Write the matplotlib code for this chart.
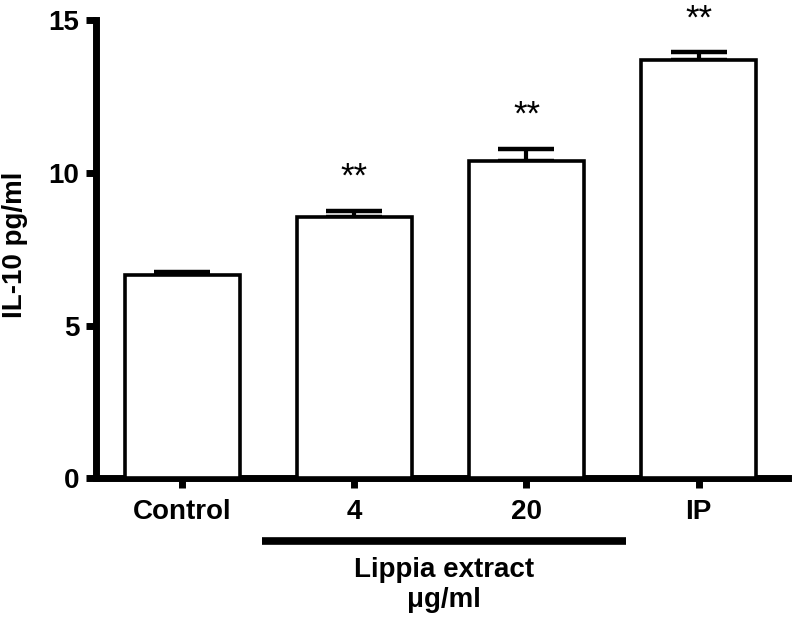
import numpy as np
import matplotlib
matplotlib.use("Agg")
import matplotlib.pyplot as plt

#  DATA
groups = ["Control", "4", "20", "IP"]
il10_mean = [6.64, 8.55, 10.37, 13.70]
il10_sem = [0.11, 0.21, 0.42, 0.25]
stars = ["", "**", "**", "**"]
y_ticks = [0, 5, 10, 15]

plt.rcParams["font.family"] = ["Liberation Sans", "DejaVu Sans"]

fig = plt.figure(figsize=(7.92, 6.21), dpi=100)
ax = fig.add_axes([0.1212, 0.2298, 0.874, 0.738])

x = np.arange(len(groups))
ax.bar(x, il10_mean, width=0.667, color="white", edgecolor="black",
       linewidth=2.6, zorder=3,
       yerr=[np.zeros(len(groups)), il10_sem],
       error_kw=dict(ecolor="black", elinewidth=3, capsize=20, capthick=3.2, zorder=2))

# significance stars
for i, s in enumerate(stars):
    if s:
        ax.annotate(s, (x[i], il10_mean[i] + il10_sem[i]), xytext=(0, 12),
                    textcoords="offset points", ha="center", va="bottom",
                    fontsize=25, annotation_clip=False)

ax.set_xlim(-0.5, 3.52)
ax.set_ylim(0, 15)
ax.set_yticks(y_ticks)
ax.set_xticks(x)
ax.set_xticklabels(groups)

for side in ["top", "right"]:
    ax.spines[side].set_visible(False)
for side in ["left", "bottom"]:
    ax.spines[side].set_linewidth(5)
ax.tick_params(axis="both", width=5, length=7, labelsize=20)
ax.tick_params(axis="x", pad=8)
ax.tick_params(axis="y", pad=5)
for lab in ax.get_xticklabels() + ax.get_yticklabels():
    lab.set_fontweight("bold")

ax.set_ylabel("IL-10 pg/ml", fontsize=20, fontweight="bold")
ax.yaxis.set_label_coords(-0.098, 0.51)

# group bar under the extract doses
trans = ax.get_xaxis_transform()
ax.plot([0.4625, 2.577], [-0.137, -0.137], color="black", linewidth=5.5,
        solid_capstyle="butt", transform=trans, clip_on=False)
ax.text(1.52, -0.20, "Lippia extract", transform=trans, ha="center", va="center",
        fontsize=20, fontweight="bold")
ax.text(1.52, -0.265, "\u03bcg/ml", transform=trans, ha="center", va="center",
        fontsize=20, fontweight="bold")

plt.savefig("out.png", dpi=100)
